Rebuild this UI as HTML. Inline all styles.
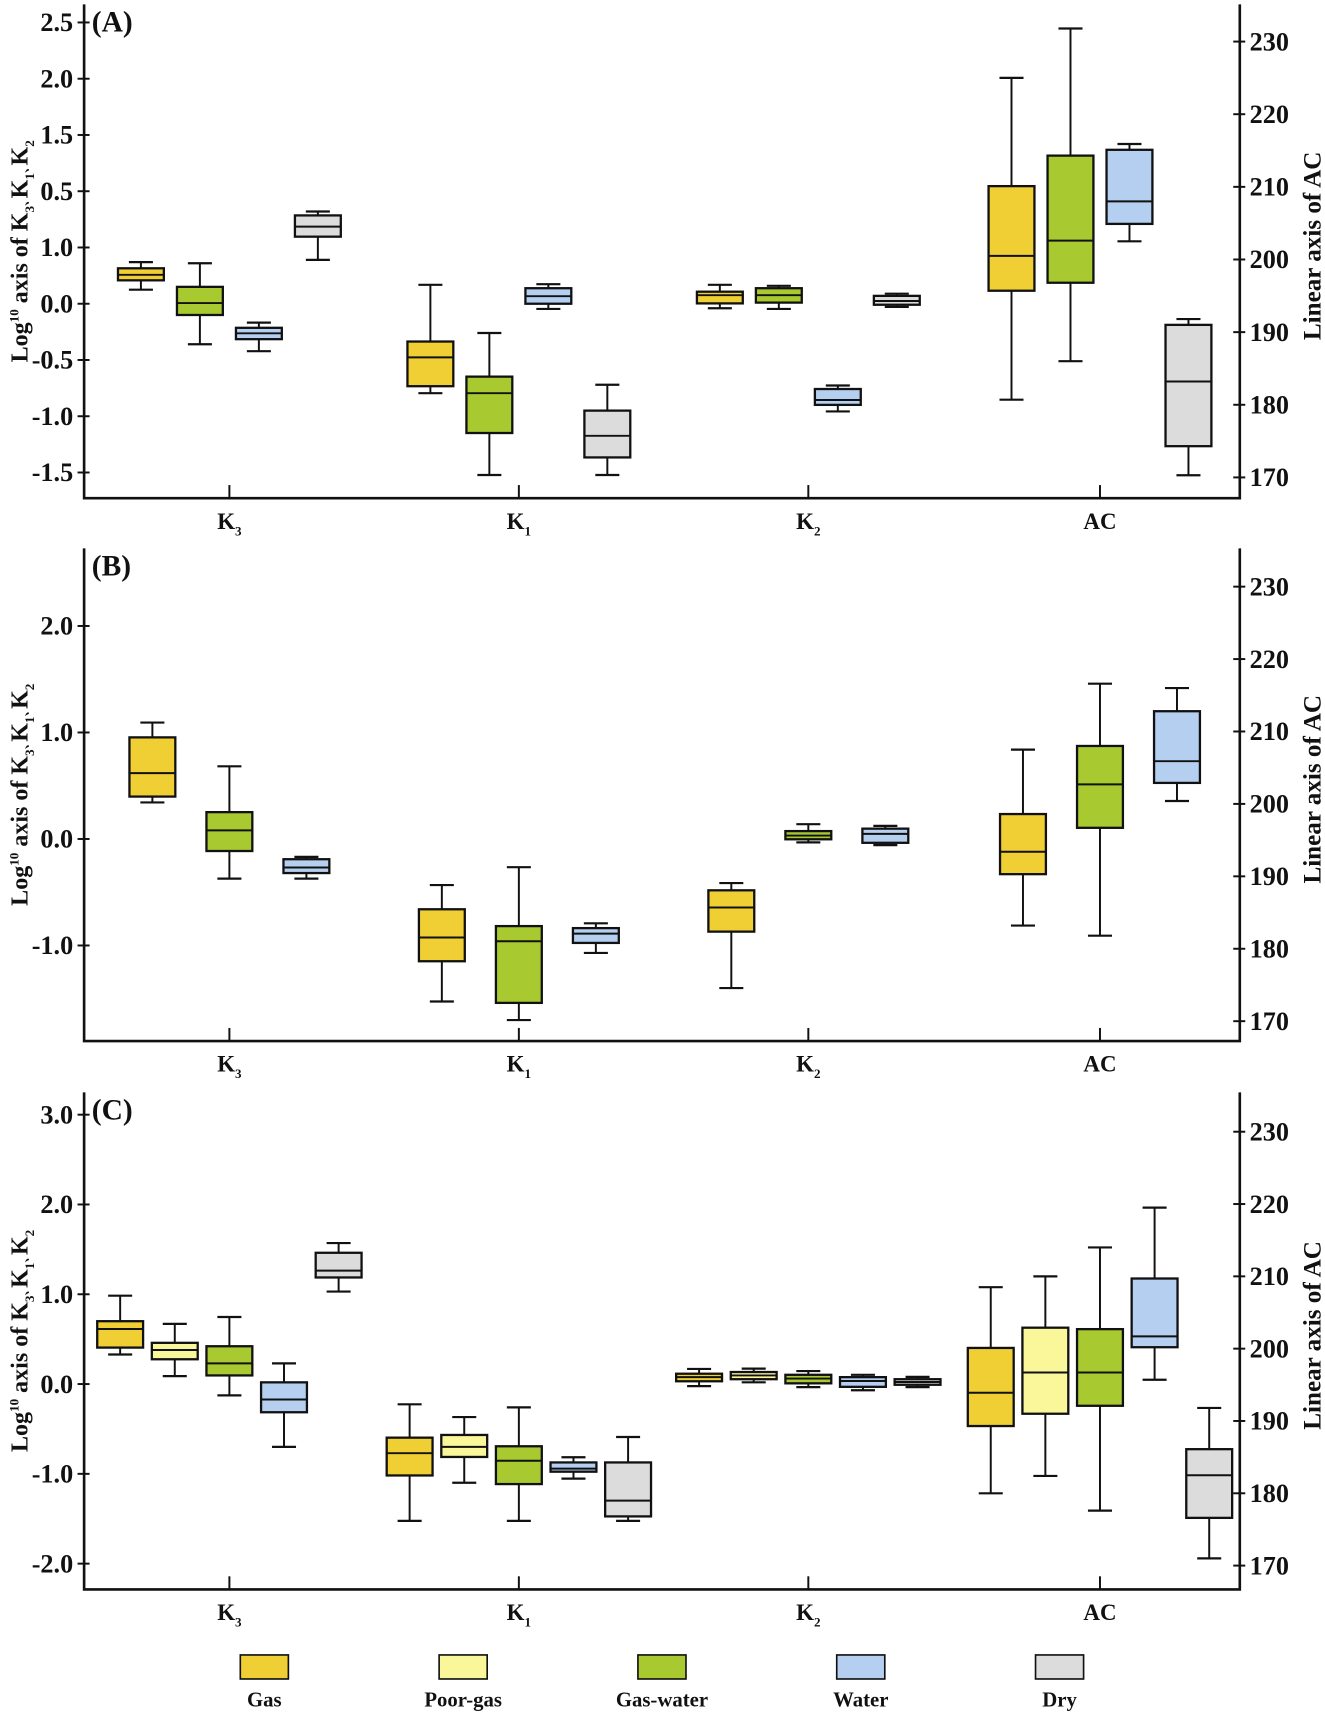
<!DOCTYPE html>
<html><head><meta charset="utf-8"><style>
html,body{margin:0;padding:0;background:#fff;}
svg{display:block;}
text{font-family:"Liberation Serif","Noto Serif CJK SC",serif;font-weight:bold;fill:#111;}
</style></head><body>
<svg id="chart" width="1325" height="1714" viewBox="0 0 1213 1569" xmlns="http://www.w3.org/2000/svg"></svg>
<script>
// ---- data: each entry [low, q1, median, q3, high]; K3,K1,K2 on log axis, AC on linear axis
const categories = ["K3","K1","K2","AC"];
const seriesNamesA = ["Gas","Gas-water","Water","Dry"];
const gasA   = [[0.125,0.208,0.257,0.315,0.37],[-0.795,-0.733,-0.477,-0.336,0.168],[-0.04,0.003,0.076,0.107,0.168],[180.7,195.7,200.5,210.1,225.0]];
const gwA    = [[-0.36,-0.10,0.006,0.15,0.36],[-1.522,-1.149,-0.795,-0.648,-0.26],[-0.046,0.01,0.076,0.138,0.159],[186.0,196.8,202.6,214.3,231.8]];
const waterA = [[-0.422,-0.315,-0.263,-0.214,-0.168],[-0.046,0,0.067,0.138,0.174],[-0.957,-0.899,-0.856,-0.758,-0.727],[202.5,204.9,208.0,215.1,215.9]];
const dryA   = [[0.39,0.596,0.685,0.785,0.82],[-1.522,-1.366,-1.174,-0.95,-0.72],[-0.028,-0.009,0.024,0.07,0.089],[170.3,174.3,183.2,191.0,191.8]];
const seriesNamesB = ["Gas","Gas-water","Water"];
const gasB   = [[0.343,0.398,0.618,0.954,1.093],[-1.526,-1.148,-0.925,-0.66,-0.433],[-1.40,-0.87,-0.643,-0.482,-0.414],[183.2,190.3,193.4,198.6,207.5]];
const gwB    = [[-0.372,-0.113,0.081,0.252,0.682],[-1.70,-1.539,-0.96,-0.818,-0.265],[-0.032,-0.003,0.032,0.074,0.139],[181.8,196.7,202.7,208.0,216.6]];
const waterB = [[-0.372,-0.32,-0.268,-0.19,-0.168],[-1.07,-0.976,-0.889,-0.837,-0.792],[-0.058,-0.036,0.048,0.097,0.123],[200.4,202.9,205.9,212.8,216.0]];
const seriesNamesC = ["Gas","Poor-gas","Gas-water","Water","Dry"];
const gasC   = [[0.329,0.406,0.613,0.70,0.984],[-1.524,-1.018,-0.77,-0.597,-0.226],[-0.023,0.031,0.077,0.115,0.168],[180.0,189.3,193.9,200.1,208.5]];
const poorC  = [[0.088,0.276,0.379,0.459,0.67],[-1.099,-0.812,-0.70,-0.567,-0.368],[0.019,0.054,0.096,0.134,0.172],[182.4,191.0,196.7,202.9,210.0]];
const gwC    = [[-0.126,0.096,0.23,0.421,0.747],[-1.524,-1.114,-0.854,-0.693,-0.26],[-0.034,0.008,0.061,0.103,0.145],[177.6,192.1,196.7,202.7,214.0]];
const waterC = [[-0.70,-0.314,-0.172,0.019,0.23],[-1.053,-0.976,-0.942,-0.873,-0.815],[-0.069,-0.031,0.034,0.077,0.103],[195.7,200.2,201.7,209.7,219.5]];
const dryC   = [[1.03,1.187,1.263,1.462,1.57],[-1.524,-1.474,-1.298,-0.873,-0.59],[-0.034,-0.008,0.023,0.054,0.08],[171.0,176.6,182.5,186.1,191.8]];
const leftTicksA = [2.5,2.0,1.5,1.0,0.5,0.0,-0.5,-1.0,-1.5];
const leftTickLabelsA = ["2.5","2.0","1.5","0.5","1.0","0.0","-0.5","-1.0","-1.5"];
const leftTicksB = [2.0,1.0,0.0,-1.0];
const leftTickLabelsB = ["2.0","1.0","0.0","-1.0"];
const leftTicksC = [3.0,2.0,1.0,0.0,-1.0,-2.0];
const leftTickLabelsC = ["3.0","2.0","1.0","0.0","-1.0","-2.0"];
const rightTicks = [230,220,210,200,190,180,170];
const legendNames = ["Gas","Poor-gas","Gas-water","Water","Dry"];

const colors = {"Gas":"#EFCF33","Poor-gas":"#FAF79B","Gas-water":"#A8CA30","Water":"#B5CFF0","Dry":"#DCDCDC"};
const NS="http://www.w3.org/2000/svg";
const svg=document.getElementById('chart');
function mk(tag,attrs,parent){const e=document.createElementNS(NS,tag);for(const k in attrs)e.setAttribute(k,attrs[k]);(parent||svg).appendChild(e);return e;}

function catLabel(g,x,y,name){
  const t=mk('text',{x:x,y:y,'text-anchor':'middle','font-size':21},g);
  
  
  if(name==='AC'){t.textContent='AC';return;}
  const a=mk('tspan',{},t);a.textContent='K';
  const b=mk('tspan',{dy:6,'font-size':12},t);b.textContent=name.slice(1);
}

function panel(p){
  const g=mk('g',{});
  
  
  const L=77,R=1135;
  const yL=v=>p.y0-p.k*v;
  const yR=v=>p.r230+(230-v)*p.rk;
  const xCat=[210,475,740,1007];
  const ax=mk('path',{d:`M${L},${p.top}V${p.bottom}H${R}V${p.top}`,fill:'none',stroke:'#111','stroke-width':2.4},g);
  
  
  p.ticks.forEach((v,i)=>{
    mk('line',{x1:L-6,x2:L+5,y1:yL(v),y2:yL(v),stroke:'#111','stroke-width':1.8},g);
    const t=mk('text',{x:L-10,y:yL(v)+8,'text-anchor':'end','font-size':24},g);
    
    
    t.textContent=p.labels[i];
  });
  rightTicks.forEach(v=>{
    mk('line',{x1:R-6,x2:R+5,y1:yR(v),y2:yR(v),stroke:'#111','stroke-width':1.8},g);
    const t=mk('text',{x:R+9,y:yR(v)+8,'font-size':24},g);
    
    
    t.textContent=v;
  });
  categories.forEach((c,i)=>{
    mk('line',{x1:xCat[i],x2:xCat[i],y1:p.bottom,y2:p.bottom-12,stroke:'#111','stroke-width':1.8},g);
    catLabel(g,xCat[i],p.bottom+28,c);
  });
  const pl=mk('text',{x:84,y:p.top+25,'font-size':27},g);
  
  
  pl.textContent='('+p.letter+')';
  const cy=(p.top+p.bottom)/2;
  const lt=mk('text',{transform:`translate(25,${cy}) rotate(-90)`,'text-anchor':'middle','font-size':22},g);
  
  
  [['Log',0,22],['10',-8,12],[' axis of K',8,22],['3',6,12],['､',-6,14],['K',0,22],['1',6,12],['､',-6,14],['K',0,22],['2',6,12]].forEach(s=>{const ts=mk('tspan',{dy:s[1],'font-size':s[2]},lt);ts.textContent=s[0];});
  const rt=mk('text',{transform:`translate(1209,${cy-5}) rotate(-90)`,'text-anchor':'middle','font-size':23},g);
  
  
  rt.textContent='Linear axis of AC';
  p.series.forEach((data,si)=>{
    const name=p.names[si];
    data.forEach((d,ci)=>{
      const sc=ci===3?yR:yL;
      const x=xCat[ci]+p.offs[si];
      const w=42;
      const bg=mk('g',{},g);
      
      
      const [lo,q1,md,q3,hi]=d.map(sc);
      mk('line',{x1:x,x2:x,y1:hi,y2:q3,stroke:'#111','stroke-width':1.8},bg);
      mk('line',{x1:x,x2:x,y1:q1,y2:lo,stroke:'#111','stroke-width':1.8},bg);
      mk('line',{x1:x-11,x2:x+11,y1:hi,y2:hi,stroke:'#111','stroke-width':2},bg);
      mk('line',{x1:x-11,x2:x+11,y1:lo,y2:lo,stroke:'#111','stroke-width':2},bg);
      mk('rect',{x:x-w/2,y:q3,width:w,height:Math.max(q1-q3,1),fill:colors[name],stroke:'#111','stroke-width':2.1},bg);
      mk('line',{x1:x-w/2,x2:x+w/2,y1:md,y2:md,stroke:'#111','stroke-width':1.8},bg);
    });
  });
}

panel({letter:'A',top:4,bottom:456,y0:278,k:103,r230:38,rk:6.65,ticks:leftTicksA,labels:leftTickLabelsA,
  series:[gasA,gwA,waterA,dryA],names:seriesNamesA,offs:[-81,-27,27,81]});
panel({letter:'B',top:502,bottom:953,y0:768,k:97.5,r230:537,rk:6.63,ticks:leftTicksB,labels:leftTickLabelsB,
  series:[gasB,gwB,waterB],names:seriesNamesB,offs:[-70.5,0,70.5]});
panel({letter:'C',top:1000,bottom:1455,y0:1267,k:82.2,r230:1036,rk:6.62,ticks:leftTicksC,labels:leftTickLabelsC,
  series:[gasC,poorC,gwC,waterC,dryC],names:seriesNamesC,offs:[-100,-50,0,50,100]});

const lg=mk('g',{});


legendNames.forEach((nm,i)=>{
  const cx=242+i*182;
  const e=mk('g',{},lg);
  
  
  mk('rect',{x:cx-22,y:1515,width:44,height:22,fill:colors[nm],stroke:'#111','stroke-width':1.5},e);
  const t=mk('text',{x:cx,y:1562,'text-anchor':'middle','font-size':19},e);
  t.textContent=nm;
});
</script>
</body></html>
